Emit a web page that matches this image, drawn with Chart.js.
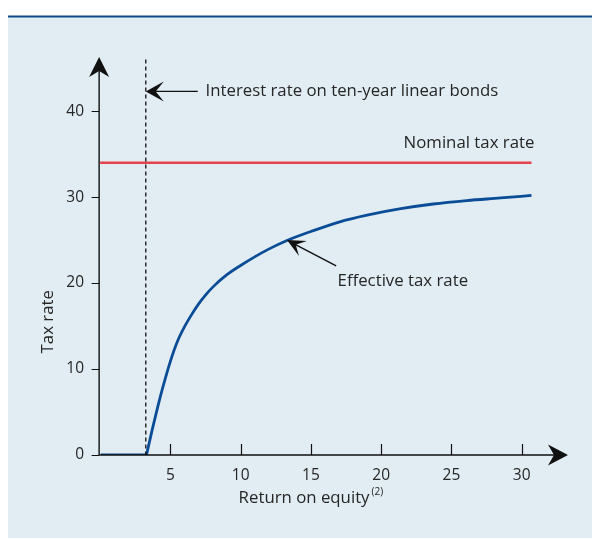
<!DOCTYPE html>
<html>
<head>
<meta charset="utf-8">
<script src="https://cdn.jsdelivr.net/npm/chart.js@4.4.1/dist/chart.umd.min.js"></script>
<style>
html,body{margin:0;padding:0;background:#fff;}
canvas{display:block;}
</style>
</head>
<body>
<canvas id="c" width="592" height="539"></canvas>
<script>
// ---- data ----
const returnOnEquity = [0.05, 3.3, 3.7, 4.1, 4.5, 5.0, 5.5, 6.0, 6.5, 7.0, 7.5, 8.0, 9.0, 10.0, 11.0, 12.0, 13.3, 15.0, 17.0, 19.0, 21.4, 23.7, 26.1, 28.5, 30.7];
const effectiveTaxRate = [0, 0, 2.9, 5.6, 8.1, 10.9, 13.2, 14.9, 16.3, 17.55, 18.6, 19.5, 20.95, 22.05, 23.05, 23.95, 24.95, 26.0, 27.1, 27.9, 28.65, 29.2, 29.6, 29.9, 30.2];
const nominalRateX = [0, 30.7];
const nominalRate = [34, 34];
const interestRate = 3.25;
const xTicks = [5, 10, 15, 20, 25, 30];
const yTicks = [0, 10, 20, 30, 40];
const xTitle = "Return on equity";
const xTitleSup = "(2)";
const yTitle = "Tax rate";
const labelInterest = "Interest rate on ten-year linear bonds";
const labelNominal = "Nominal tax rate";
const labelEffective = "Effective tax rate";

const FONT = "'Open Sans', 'Noto Sans', sans-serif";
const TEXT = '#262626';
const LBL = '16.8px ';

function head(ctx, tx, ty, ang, L, W, notch) {
  ctx.save();
  ctx.translate(tx, ty);
  ctx.rotate(ang);
  ctx.beginPath();
  ctx.moveTo(0, 0);
  ctx.lineTo(-L, -W);
  ctx.lineTo(-L * notch, 0);
  ctx.lineTo(-L, W);
  ctx.closePath();
  ctx.fill();
  ctx.restore();
}

const decor = {
  id: 'decor',
  beforeDraw(chart) {
    const ctx = chart.ctx;
    ctx.save();
    ctx.fillStyle = '#ffffff';
    ctx.fillRect(0, 0, chart.width, chart.height);
    ctx.fillStyle = '#e1ecf3';
    ctx.fillRect(8, 17, chart.width - 8, chart.height - 18);
    ctx.fillStyle = '#0b4a8b';
    ctx.fillRect(8, 15.5, chart.width - 8, 2);
    ctx.restore();
  },
  afterDatasetsDraw(chart) {
    const ctx = chart.ctx;
    const xs = chart.scales.x, ys = chart.scales.y;
    const ca = chart.chartArea;
    const x0 = xs.getPixelForValue(0) - 1, y0 = ys.getPixelForValue(0);
    ctx.save();
    ctx.strokeStyle = '#111';
    ctx.fillStyle = '#111';
    ctx.lineWidth = 1.4;
    // axes
    ctx.beginPath();
    ctx.moveTo(x0, y0);
    ctx.lineTo(x0, ca.top + 6);
    ctx.moveTo(x0, y0);
    ctx.lineTo(ca.right - 6, y0);
    ctx.stroke();
    head(ctx, x0, ca.top, -Math.PI / 2, 20, 10, 0.7);
    head(ctx, ca.right, y0, 0, 20, 10.5, 0.7);
    // tick marks
    ctx.lineWidth = 1.2;
    ctx.beginPath();
    xTicks.forEach(v => {
      const p = Math.round(xs.getPixelForValue(v)) + 0.5;
      ctx.moveTo(p, y0);
      ctx.lineTo(p, y0 - 11);
    });
    yTicks.forEach(v => {
      const p = Math.round(ys.getPixelForValue(v)) + 0.5;
      ctx.moveTo(x0, p);
      ctx.lineTo(x0 - 7.5, p);
    });
    ctx.stroke();
    // dashed interest rate line
    const xi = xs.getPixelForValue(interestRate);
    ctx.setLineDash([4, 3]);
    ctx.lineWidth = 1.3;
    ctx.beginPath();
    ctx.moveTo(xi, ys.getPixelForValue(46.0));
    ctx.lineTo(xi, y0);
    ctx.stroke();
    ctx.setLineDash([]);
    // interest arrow
    const ya = ys.getPixelForValue(42.3);
    ctx.lineWidth = 1.4;
    ctx.beginPath();
    ctx.moveTo(xs.getPixelForValue(6.95), ya);
    ctx.lineTo(xi + 8, ya);
    ctx.stroke();
    head(ctx, xi, ya, Math.PI, 18, 10, 0.55);
    // effective arrow
    const tx = xs.getPixelForValue(13.3), ty = ys.getPixelForValue(25.0);
    const sx = xs.getPixelForValue(16.8), sy = ys.getPixelForValue(22.0);
    const ang = Math.atan2(ty - sy, tx - sx);
    ctx.beginPath();
    ctx.moveTo(sx, sy);
    ctx.lineTo(tx - 8 * Math.cos(ang), ty - 8 * Math.sin(ang));
    ctx.stroke();
    head(ctx, tx, ty, ang, 18, 8.5, 0.55);
    // labels
    ctx.fillStyle = TEXT;
    ctx.font = LBL + FONT;
    ctx.textBaseline = 'middle';
    ctx.textAlign = 'left';
    ctx.fillText(labelInterest, xs.getPixelForValue(7.5), ya);
    ctx.fillText(labelNominal, xs.getPixelForValue(21.6), ys.getPixelForValue(36.3));
    ctx.fillText(labelEffective, xs.getPixelForValue(16.9), ys.getPixelForValue(20.2));
    // axis titles
    const tw = ctx.measureText(xTitle).width;
    ctx.font = '10px ' + FONT;
    const sw = ctx.measureText(xTitleSup).width;
    const cx = xs.getPixelForValue(15.0);
    const left = cx - (tw + sw + 2) / 2;
    ctx.font = LBL + FONT;
    ctx.fillText(xTitle, left, 498);
    ctx.font = '10px ' + FONT;
    ctx.fillText(xTitleSup, left + tw + 2, 492);
    ctx.save();
    ctx.font = LBL + FONT;
    ctx.translate(48, ys.getPixelForValue(15.5));
    ctx.rotate(-Math.PI / 2);
    ctx.textAlign = 'center';
    ctx.fillText(yTitle, 0, 0);
    ctx.restore();
    ctx.restore();
  }
};

const pts = returnOnEquity.map((x, i) => ({ x, y: effectiveTaxRate[i] }));

new Chart(document.getElementById('c'), {
  type: 'scatter',
  data: {
    datasets: [
      {
        label: 'Nominal tax rate',
        data: nominalRateX.map((x, i) => ({ x, y: nominalRate[i] })),
        showLine: true,
        borderColor: '#e5424b',
        borderWidth: 2.6,
        pointRadius: 0
      },
      {
        label: 'Effective tax rate (flat part)',
        data: pts.slice(0, 2),
        showLine: true,
        borderColor: '#0a4d96',
        borderWidth: 2.8,
        pointRadius: 0
      },
      {
        label: 'Effective tax rate',
        data: pts.slice(1),
        showLine: true,
        borderColor: '#0a4d96',
        borderWidth: 2.8,
        borderJoinStyle: 'round',
        pointRadius: 0,
        cubicInterpolationMode: 'monotone'
      }
    ]
  },
  options: {
    responsive: false,
    devicePixelRatio: 1,
    animation: false,
    layout: { padding: { left: 0, right: 24, top: 57, bottom: 0 } },
    plugins: { legend: { display: false }, tooltip: { enabled: false } },
    scales: {
      x: {
        type: 'linear',
        min: -0.08,
        max: 33.3,
        grid: { display: false, drawTicks: false },
        border: { display: false },
        afterBuildTicks: s => { s.ticks = xTicks.map(v => ({ value: v })); },
        afterFit: s => { s.height = 84; },
        ticks: { padding: 11, color: TEXT, font: { family: FONT, size: 15.5 } }
      },
      y: {
        type: 'linear',
        min: 0,
        max: 46.3,
        grid: { display: false, drawTicks: false },
        border: { display: false },
        afterBuildTicks: s => { s.ticks = yTicks.map(v => ({ value: v })); },
        afterFit: s => { s.width = 99; },
        ticks: { padding: 15, color: TEXT, font: { family: FONT, size: 15.5 } }
      }
    }
  },
  plugins: [decor]
});
</script>
</body>
</html>
